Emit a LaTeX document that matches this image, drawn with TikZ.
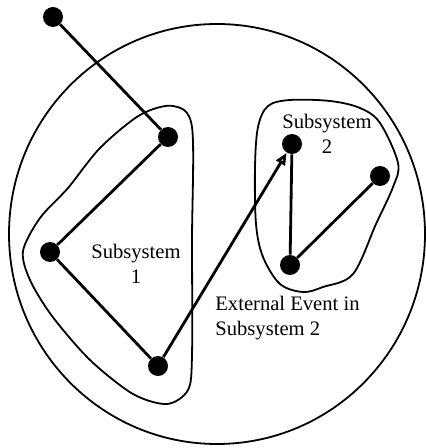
\documentclass[tikz,border=0pt]{standalone}
\usepackage{fontspec}
\setmainfont{Liberation Serif}
\usetikzlibrary{arrows.meta}
\tikzset{
  dot/.style={circle,fill,inner sep=0pt,minimum size=10pt},
  edge/.style={line width=1.4pt},
  region/.style={line width=0.9pt},
  lbl/.style={font=\fontsize{10.3}{12.5}\selectfont,inner sep=0pt},
}
\begin{document}
\begin{tikzpicture}[x=0.5pt,y=-0.5pt]
\useasboundingbox (0,0) rectangle (426,448);
\draw[region] (217,234) ellipse[x radius=208,y radius=210];

% subsystem outlines
\draw[region] plot[smooth cycle,tension=0.5] coordinates {
  (173,106) (140,115) (100,148) (68,188) (40,218) (23,251)
  (30,280) (52,316) (90,360) (133,394) (167,404) (188,390) (192,355)
  (192,240) (192,127)};
\draw[region] plot[smooth cycle,tension=0.55] coordinates {
  (258,127) (268,106) (290,100) (330,101) (360,108) (380,123) (398,163)
  (393,187) (376,224) (353,274) (323,287) (303,292) (280,284) (263,257)
  (256,224) (255,167)};

% events
\node[dot] (top) at (53,17) {};
\node[dot] (s1a) at (168,137) {};
\node[dot] (s1b) at (50,252) {};
\node[dot] (s1c) at (158,366) {};
\node[dot] (s2a) at (292,144) {};
\node[dot] (s2b) at (380,176) {};
\node[dot] (s2c) at (290,265) {};

\draw[edge] (top) -- (s1a);
\draw[edge] (s1a) -- (s1b);
\draw[edge] (s1b) -- (s1c);
\draw[edge,-{Triangle[open,length=6pt,width=5pt]}] (s1c) -- (s2a);
\draw[edge] (s2a) -- (s2c);
\draw[edge] (s2c) -- (s2b);

\node[lbl,align=center] (n1) at (136,264) {Subsystem\\1};
\node[lbl,align=center] (n2) at (327,134) {Subsystem\\2};
\node[lbl,align=left,anchor=north west] (ext) at (215,296) {External Event in\\Subsystem 2};
\end{tikzpicture}
\end{document}
